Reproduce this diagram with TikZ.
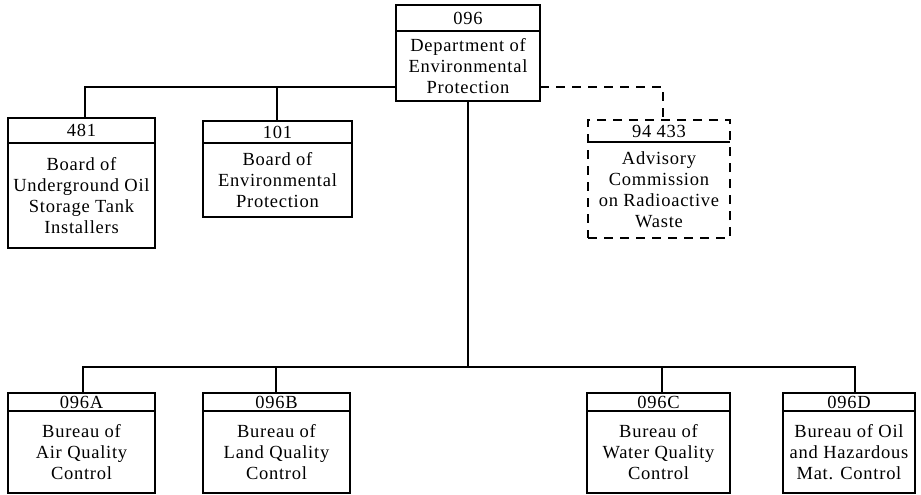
\documentclass[tikz,border=0pt]{standalone}
\usepackage{fontspec}
\setmainfont{Liberation Serif}[LetterSpace=4]
\tikzset{
  unitbox/.style={draw, line width=2.4pt, inner sep=0pt, outer sep=0pt},
  dashedbox/.style={dash pattern=on 9pt off 7pt},
  divline/.style={line width=2pt},
  hdr/.style={inner sep=0pt, font=\fontsize{18.5}{21}\selectfont},
  bdy/.style={inner sep=0pt, align=center, font=\fontsize{18.5}{21}\selectfont},
  conn/.style={line width=2.4pt},
  dashconn/.style={line width=2.4pt, dash pattern=on 9pt off 7pt},
}
\newcommand\orgunit[9]{%
  \pgfmathsetmacro\orgcx{(#2+#4)/2}%
  \pgfmathsetmacro\orgcy{(#3+#5)/2}%
  \pgfmathsetmacro\orgw{#4-#2}%
  \pgfmathsetmacro\orgh{#5-#3}%
  \pgfmathsetmacro\orghy{(#3+#6)/2}%
  \pgfmathsetmacro\orgby{(#6+#5)/2}%
  \node[unitbox,#9,minimum width=\orgw pt,minimum height=\orgh pt] (#1) at (\orgcx,\orgcy) {};
  \draw[divline] (#1.west |- 0,#6) -- (#1.east |- 0,#6);
  \node[hdr] (#1-h) at (\orgcx,\orghy) {#7};
  \node[bdy] (#1-b) at (\orgcx,\orgby) {#8};
}
\begin{document}
\begin{tikzpicture}[x=1pt,y=-1pt]
\useasboundingbox (0,0) rectangle (921,495);
\orgunit{dep}{396}{5}{540}{101}{31}{096}{Department of\\Environmental\\Protection}{}
\orgunit{b481}{8}{118}{155}{248}{143}{481}{Board of\\Underground Oil\\Storage Tank\\Installers}{}
\orgunit{b101}{203}{121}{352}{217}{143}{101}{Board of\\Environmental\\Protection}{}
\orgunit{adv}{588}{120}{730}{238}{142}{94 433}{Advisory\\Commission\\on Radioactive\\Waste}{dashedbox}
\orgunit{bA}{8}{393}{155}{493}{411}{096A}{Bureau of\\Air Quality\\Control}{}
\orgunit{bB}{203}{393}{350}{493}{411}{096B}{Bureau of\\Land Quality\\Control}{}
\orgunit{bC}{587}{393}{730}{493}{411}{096C}{Bureau of\\Water Quality\\Control}{}
\orgunit{bD}{783}{393}{915}{493}{411}{096D}{Bureau of Oil\\and Hazardous\\Mat. Control}{}
% upper connectors
\coordinate (t481) at (85,87);
\coordinate (t101) at (277,87);
\coordinate (tadv) at (663,87);
\draw[conn] (dep.west |- t481) -- (t481) -- (t481 |- b481.north);
\draw[conn] (t101) -- (t101 |- b101.north);
\draw[dashconn] (dep.east |- tadv) -- (tadv) -- (tadv |- adv.north);
% lower bus
\coordinate (busA) at (83,367);
\coordinate (busB) at (276,367);
\coordinate (busC) at (662,367);
\coordinate (busD) at (855,367);
\draw[conn] (dep.south) -- (dep.south |- busA);
\draw[conn] (busA |- bA.north) -- (busA) -- (busD) -- (busD |- bD.north);
\draw[conn] (busB) -- (busB |- bB.north);
\draw[conn] (busC) -- (busC |- bC.north);
\end{tikzpicture}
\end{document}
